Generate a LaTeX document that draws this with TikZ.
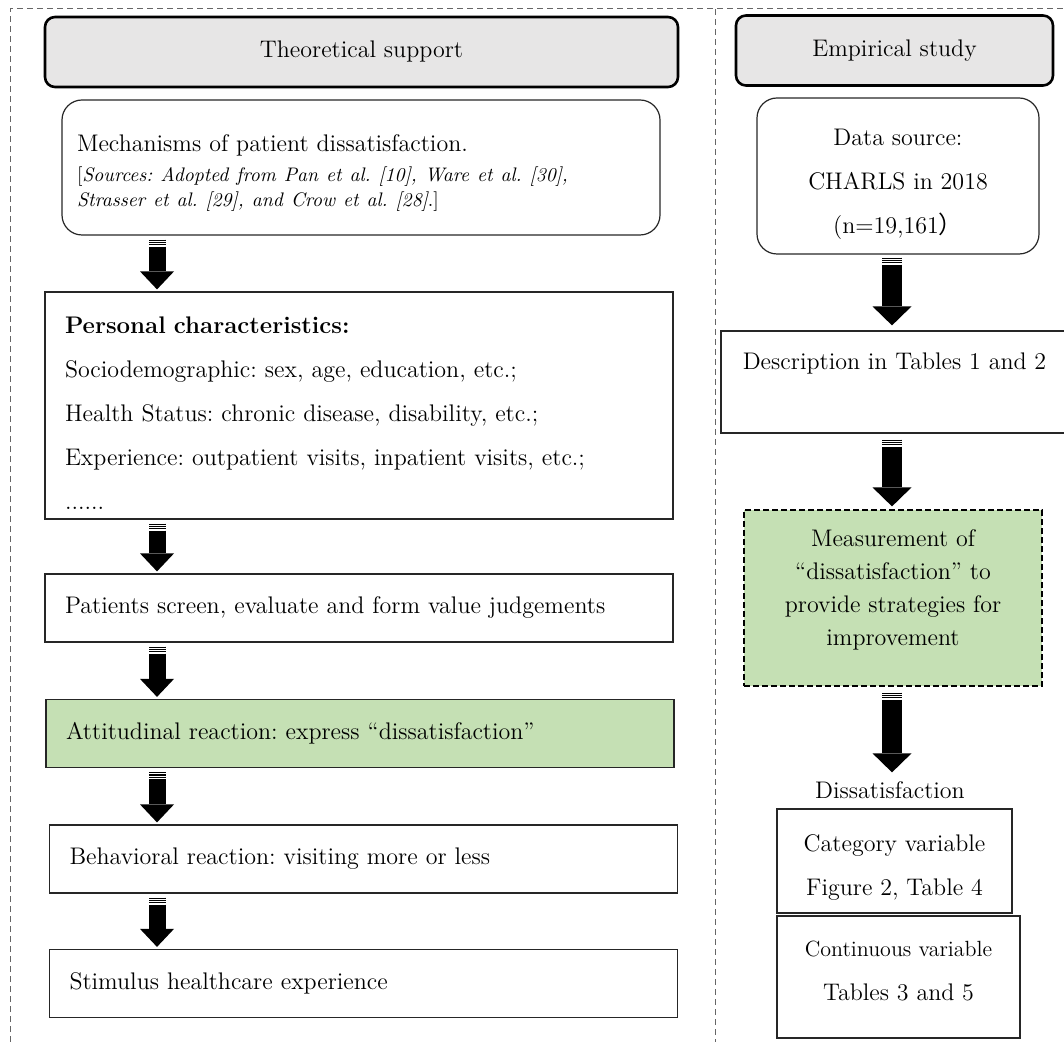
\documentclass[tikz,border=0pt]{standalone}
\usepackage{fontspec}
\newfontfamily\cjkfont{Noto Sans CJK SC}
\usetikzlibrary{arrows.meta,calc}
\definecolor{headgray}{HTML}{E7E6E6}
\definecolor{paleg}{HTML}{C5E0B4}

\begin{document}
\begin{tikzpicture}[
x=0.5pt,y=-0.5pt,
every node/.style={font=\fontsize{12}{22}\selectfont\frenchspacing},
head/.style={
  draw,
  line width=1.3pt,
  rounded corners=5pt,
  fill=headgray,
  minimum height=35pt
},
rbox/.style={
  draw=black!85,
  line width=0.6pt,
  rounded corners=10pt,
  align=center
},
sbox/.style={
  draw=black!85,
  line width=0.6pt,
  align=left,
  inner xsep=10pt,
  text width=294pt,
  minimum height=34pt
},
cbox/.style={
  draw=black!85,
  line width=0.6pt,
  align=center
},
arr/.style={
  line width=8.5pt,
  dash pattern=on 0.6pt off 0.5pt on 0.6pt off 0.5pt on 0.6pt off 0.7pt on 300pt off 1pt,
  -{Triangle[width=17pt,length=9pt,line width=0pt]}
},
arrb/.style={
  arr,
  line width=10pt,
  -{Triangle[width=19.5pt,length=9.5pt,line width=0pt]}
},
frame/.style={
  draw=black!60,
  line width=0.5pt,
  dash pattern=on 3pt off 2pt
}
]
\useasboundingbox (0,0) rectangle (1064,1042);

% dashed frame
\draw[frame] (10,1042) -- (10,9) -- (1064,9);
\draw[frame] (715,9) -- (715,1042);

\coordinate (lx) at (157,0);
\coordinate (rx) at (892,0);

% theoretical side
\node[head,minimum width=316.5pt] at (361.5,52)
  (ts) {Theoretical support};
\node[rbox,align=left,minimum width=299pt,minimum height=67.5pt,
  text width=284pt,inner xsep=7.5pt,text height=13.5pt] at (361,167.5)
  (mech) {Mechanisms of patient dissatisfaction.\par\vspace{2.5pt}%
  {\fontsize{9.8}{12.5}\selectfont [\textit{Sources: Adopted from Pan et al. [10], Ware et al. [30],\\
  Strasser et al. [29], and Crow et al. [28]}.]\par}};
\node[sbox,minimum height=113.5pt,text height=16.3pt] at (359,405.5)
  (pers) {\textbf{Personal characteristics:}\\
  Sociodemographic: sex, age, education, etc.;\\
  Health Status: chronic disease, disability, etc.;\\
  Experience: outpatient visits, inpatient visits, etc.;\\
  ......};
\node[sbox] at (359,608)
  (scr) {Patients screen, evaluate and form value judgements};
\node[sbox,fill=paleg] at (360,733.5)
  (att) {Attitudinal reaction: express “dissatisfaction”};
\node[sbox] at (363.5,859)
  (beh) {Behavioral reaction: visiting more or less};
\node[sbox] at (363.5,983.5)
  (stim) {Stimulus healthcare experience};

\foreach \a/\b in {mech/pers,pers/scr,scr/att,att/beh,beh/stim}
  \draw[arr] ($(\a.south -| lx)+(0,4)$) -- ($(\b.north -| lx)+(0,-2)$);

% empirical side
\node[head,minimum width=158.5pt] at (894.5,50.5)
  (es) {Empirical study};
\node[rbox,minimum width=141pt,minimum height=78pt,text height=61pt] at (898,176)
  (data) {Data source:\\CHARLS in 2018\\(n=19,161{\cjkfont ）}};
\node[cbox,minimum width=173.5pt,text height=8.5pt,text depth=20.5pt,
  inner ysep=11pt] at (894.5,382)
  (desc) {Description in Tables 1 and 2};
\node[cbox,draw=black,dash pattern=on 3pt off 1.5pt,fill=paleg,
  minimum width=149pt,minimum height=88pt,text depth=10pt,inner ysep=10pt,
  font=\fontsize{12}{16.5}\selectfont] at (893,598)
  (meas) {Measurement of\\“dissatisfaction” to\\provide strategies for\\improvement};
\node at (890,790)
  (dis) {Dissatisfaction};
\node[cbox,minimum width=117.5pt,minimum height=52pt,text height=36.5pt] at (894.5,861)
  (cat) {Category variable\\Figure 2, Table 4};
\node[cbox,minimum width=121.5pt,minimum height=61pt,text depth=6pt] at (898.5,977)
  (cont) {{\fontsize{11}{22}\selectfont Continuous variable}\\Tables 3 and 5};

\draw[arrb] ($(data.south -| rx)+(0,3)$) -- ($(desc.north -| rx)+(0,-5)$);
\draw[arrb] ($(desc.south -| rx)+(0,6)$) -- ($(meas.north -| rx)+(0,-3)$);
\draw[arrb] ($(meas.south -| rx)+(0,6)$) -- ($(dis.north -| rx)+(0,-2)$);
\end{tikzpicture}
\end{document}
